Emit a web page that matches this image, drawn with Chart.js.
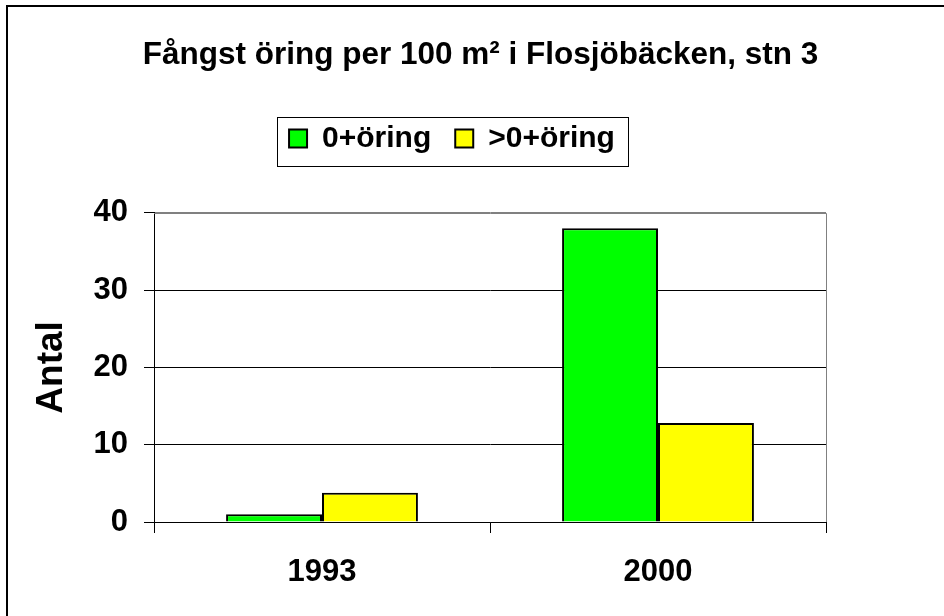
<!DOCTYPE html>
<html>
<head>
<meta charset="utf-8">
<script src="https://cdn.jsdelivr.net/npm/chart.js@4.4.1/dist/chart.umd.min.js"></script>
<style>
  html, body { margin: 0; padding: 0; background: #fff; }
  #wrap { position: relative; width: 944px; height: 616px; overflow: hidden; }
  canvas { display: block; }
</style>
</head>
<body>
<div id="wrap"><canvas id="c" width="944" height="616"></canvas></div>
<script>
const categories = ['1993', '2000'];
const seriesNames = ['0+öring', '>0+öring'];
const youngTrout = [1, 38];
const olderTrout = [3.8, 12.8];
const yTicks = [0, 10, 20, 30, 40];
const chartTitle = 'Fångst öring per 100 m² i Flosjöbäcken, stn 3';
const yTitle = 'Antal';

const FONT = '"Liberation Sans", Arial, Helvetica, sans-serif';

const placeBlocks = {
  id: 'placeBlocks',
  afterLayout(chart) {
    const t = chart.titleBlock;
    if (t) {
      const dx = 480.5 - (t.left + t.right) / 2;
      t.left += dx; t.right += dx;
    }
    const l = chart.legend;
    if (l) {
      const dx = 452 - (l.left + l.right) / 2;
      l.left += dx; l.right += dx;
      const dy = l.top - 99.5;
      l.top -= dy; l.bottom -= dy;
    }
  },
  beforeDraw(chart) {
    const ctx = chart.ctx;
    ctx.save();
    ctx.fillStyle = '#fff';
    ctx.fillRect(0, 0, chart.width, chart.height);
    ctx.restore();
  },
  afterDraw(chart) {
    const ctx = chart.ctx;
    ctx.save();
    // outer frame (left and top visible)
    ctx.strokeStyle = '#000';
    ctx.lineWidth = 2;
    ctx.strokeRect(7, 6, 960, 640);
    // legend frame
    const l = chart.legend;
    if (l && l.lineWidths) {
      const p = 24;
      const lw = l.lineWidths[0];
      const x0 = (l.left + p + l.right - lw) / 2;
      const x1 = x0 + lw - p;
      const yc = l.top + p + 15;
      ctx.lineWidth = 1;
      ctx.strokeStyle = '#000';
      ctx.strokeRect(Math.round(x0 - 12) + 0.5, Math.round(yc - 22) + 0.5, Math.round(x1 + 13 - (x0 - 12)), 49);
    }
    // plot area border top/right (gray)
    const a = chart.chartArea;
    ctx.strokeStyle = '#808080';
    ctx.lineWidth = 1;
    ctx.beginPath();
    ctx.moveTo(a.left, Math.round(a.top) + 0.5);
    ctx.lineTo(Math.round(a.right) + 0.5, Math.round(a.top) + 0.5);
    ctx.lineTo(Math.round(a.right) + 0.5, a.bottom);
    ctx.stroke();
    ctx.restore();
  }
};

new Chart(document.getElementById('c'), {
  type: 'bar',
  data: {
    labels: categories,
    datasets: [
      { label: seriesNames[0], data: youngTrout, backgroundColor: '#00FF00', borderColor: '#000', borderWidth: 2 },
      { label: seriesNames[1], data: olderTrout, backgroundColor: '#FFFF00', borderColor: '#000', borderWidth: 2 }
    ]
  },
  options: {
    responsive: false,
    devicePixelRatio: 1,
    animation: false,
    layout: { padding: { left: 0, right: 118, top: 0, bottom: 0 } },
    datasets: { bar: { categoryPercentage: 0.571, barPercentage: 1.0 } },
    plugins: {
      title: {
        display: true,
        text: chartTitle,
        color: '#000',
        font: { family: FONT, size: 31.5, weight: 'bold' },
        padding: { top: 36, bottom: 75 }
      },
      legend: {
        display: true,
        position: 'top',
        labels: {
          color: '#000',
          font: { family: FONT, size: 30, weight: 'bold' },
          boxWidth: 18,
          boxHeight: 18,
          padding: 24
        }
      },
      tooltip: { enabled: false }
    },
    scales: {
      x: {
        grid: {
          display: true,
          drawOnChartArea: false,
          drawTicks: true,
          tickLength: 11,
          tickColor: '#000',
          color: '#000'
        },
        border: { display: true, color: '#000', width: 1 },
        ticks: {
          color: '#000',
          font: { family: FONT, size: 31, weight: 'bold' },
          padding: 21,
          maxRotation: 0
        },
        afterFit(scale) { scale.height = 94; }
      },
      y: {
        min: 0,
        max: 40,
        afterBuildTicks(scale) { scale.ticks = yTicks.map(v => ({ value: v })); },
        grid: {
          display: true,
          drawTicks: true,
          tickLength: 10,
          tickColor: '#000',
          color: (ctx) => (ctx.tick && ctx.tick.value === 40) ? '#808080' : '#000'
        },
        border: { display: true, color: '#000', width: 1 },
        ticks: {
          color: '#000',
          font: { family: FONT, size: 31, weight: 'bold' },
          padding: 16
        },
        title: {
          display: true,
          text: yTitle,
          color: '#000',
          font: { family: FONT, size: 37, weight: 'bold' },
          padding: { top: 30, bottom: 0 }
        },
        afterFit(scale) { scale.width = 154; }
      }
    }
  },
  plugins: [placeBlocks]
});
</script>
</body>
</html>
